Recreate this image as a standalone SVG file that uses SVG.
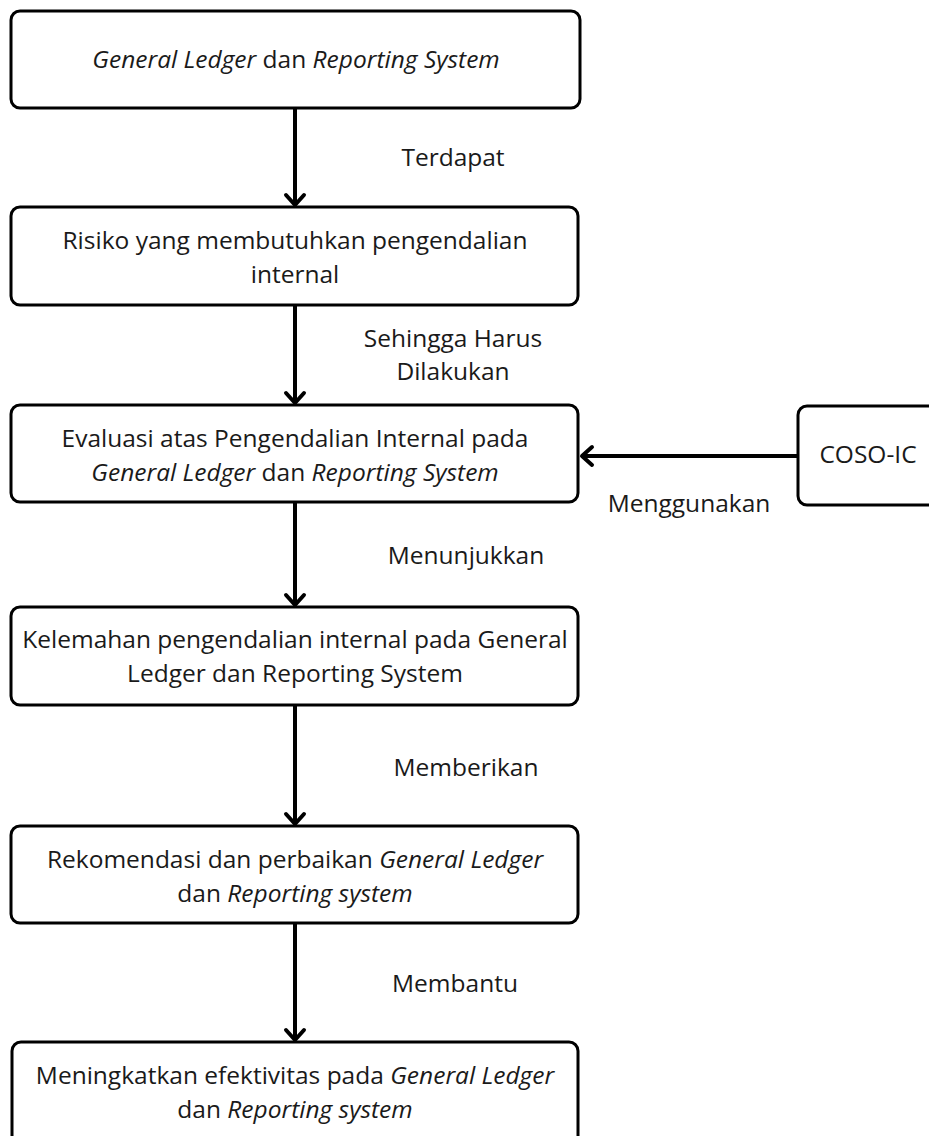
<svg xmlns="http://www.w3.org/2000/svg" width="929" height="1136" viewBox="0 0 929 1136">
<defs>
<marker id="arr" markerUnits="userSpaceOnUse" markerWidth="30" markerHeight="30" viewBox="-15 -15 30 30" refX="0" refY="0" orient="auto">
<path d="M -10 -9 L 0 0 L -10 9" fill="none" stroke="#000" stroke-width="4" stroke-linecap="round" stroke-linejoin="round"/>
</marker>
<style>
.box{fill:#fff;stroke:#000;stroke-width:3}
.t{font-family:"Open Sans","Noto Sans","Liberation Sans",sans-serif;font-size:24.5px;fill:#1a1a1a;text-anchor:middle}
.i{font-style:italic}
.c{stroke:#000;stroke-width:4;fill:none;marker-end:url(#arr)}
</style>
</defs>
<rect width="929" height="1136" fill="#fff"/>
<g id="connectors">
<line class="c" x1="295" y1="109" x2="295" y2="205"/>
<line class="c" x1="295" y1="306" x2="295" y2="403"/>
<line class="c" x1="295" y1="503" x2="295" y2="605"/>
<line class="c" x1="295" y1="706" x2="295" y2="824"/>
<line class="c" x1="295" y1="924" x2="295" y2="1040"/>
<line class="c" x1="798" y1="456" x2="582" y2="456"/>
<text class="t" x="453" y="166">Terdapat</text>
<text class="t" x="453" y="347">Sehingga Harus</text>
<text class="t" x="453" y="380">Dilakukan</text>
<text class="t" x="689" y="512">Menggunakan</text>
<text class="t" x="466" y="564">Menunjukkan</text>
<text class="t" x="466" y="776">Memberikan</text>
<text class="t" x="455" y="992">Membantu</text>
</g>
<g id="n1">
<rect class="box" x="11" y="11" width="569" height="97" rx="9"/>
<text class="t" x="296" y="68"><tspan class="i">General Ledger</tspan> dan <tspan class="i">Reporting System</tspan></text>
</g>
<g id="n2">
<rect class="box" x="11" y="207" width="567" height="98" rx="9"/>
<text class="t" x="295" y="249">Risiko yang membutuhkan pengendalian</text>
<text class="t" x="295" y="283">internal</text>
</g>
<g id="n3">
<rect class="box" x="11" y="405" width="567" height="97" rx="9"/>
<text class="t" x="295" y="447">Evaluasi atas Pengendalian Internal pada</text>
<text class="t" x="295" y="481"><tspan class="i">General Ledger</tspan> dan <tspan class="i">Reporting System</tspan></text>
</g>
<g id="n4">
<rect class="box" x="11" y="607" width="567" height="98" rx="9"/>
<text class="t" x="295" y="648">Kelemahan pengendalian internal pada General</text>
<text class="t" x="295" y="682">Ledger dan Reporting System</text>
</g>
<g id="n5">
<rect class="box" x="11" y="826" width="567" height="97" rx="9"/>
<text class="t" x="295" y="868">Rekomendasi dan perbaikan <tspan class="i">General Ledger</tspan></text>
<text class="t" x="295" y="902">dan <tspan class="i">Reporting system</tspan></text>
</g>
<g id="n6">
<rect class="box" x="12" y="1042" width="566" height="110" rx="9"/>
<text class="t" x="295" y="1084">Meningkatkan efektivitas pada <tspan class="i">General Ledger</tspan></text>
<text class="t" x="295" y="1118">dan <tspan class="i">Reporting system</tspan></text>
</g>
<g id="coso">
<rect class="box" x="798" y="406" width="150" height="99" rx="9"/>
<text class="t" x="868" y="463">COSO-IC</text>
</g>
</svg>
